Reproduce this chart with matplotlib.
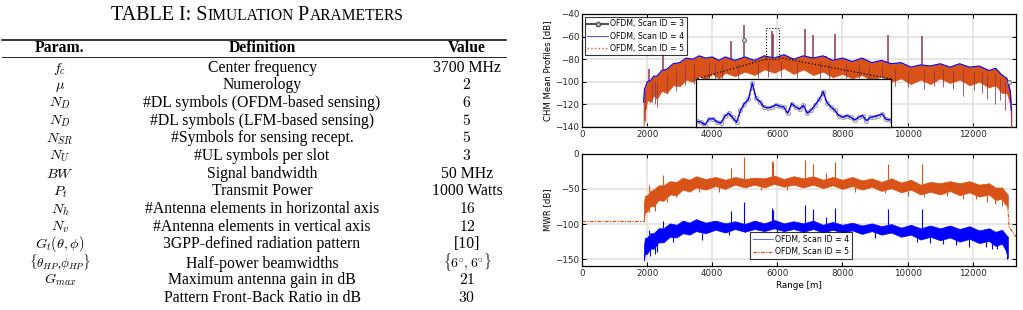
import numpy as np
import matplotlib
matplotlib.use("Agg")
import matplotlib.pyplot as plt
from matplotlib.lines import Line2D
from matplotlib.patches import Rectangle
from matplotlib.offsetbox import TextArea, HPacker, AnchoredOffsetbox
from matplotlib.transforms import ScaledTranslation

plt.rcParams['mathtext.fontset'] = 'cm'

# ---------------- table data ----------------
tab_param = [r'$f_c$', r'$\mu$', r'$N_D$', r'$N_D$', r'$N_{SR}$', r'$N_U$', r'$BW$', r'$P_t$',
             r'$N_h$', r'$N_v$', r'$G_t(\theta,\phi)$', r'$\{\theta_{HP}$,$\phi_{HP}\}$', r'$G_{max}$', '']
tab_def = ['Center frequency', 'Numerology', '#DL symbols (OFDM-based sensing)',
           '#DL symbols (LFM-based sensing)', '#Symbols for sensing recept.', '#UL symbols per slot',
           'Signal bandwidth', 'Transmit Power', '#Antenna elements in horizontal axis',
           '#Antenna elements in vertical axis', '3GPP-defined radiation pattern',
           'Half-power beamwidths', 'Maximum antenna gain in dB', 'Pattern Front-Back Ratio in dB']
tab_val = ['3700 MHz', r'$2$', r'$6$', r'$5$', r'$5$', r'$3$', '50 MHz', '1000 Watts', r'$16$', r'$12$',
           '[10]', r'$\{6^{\circ},6^{\circ}\}$', r'$21$', r'$30$']

# ---------------- CHM mean profiles (top) ----------------
chm_r = [1890, 1920, 1960, 2000, 2100, 2200, 2300, 2450, 2600, 2800,
         3000, 3200, 3400, 3600, 3800, 4000, 4200, 4400, 4700, 5000,
         5300, 5600, 5900, 6200, 6500, 6800, 7100, 7400, 7700, 8000,
         8300, 8600, 8900, 9200, 9500, 9800, 10100, 10400, 10700, 11000,
         11300, 11600, 11900, 12200, 12500, 12700, 12900, 13050, 13150, 13190]
chm_hi = [-118, -106, -104, -100, -99, -95, -95, -90, -89, -84,
          -83, -79, -80, -77, -79, -78, -81, -78, -81, -78,
          -81, -77, -79, -76, -80, -77, -79, -77, -81, -79,
          -82, -79, -83, -81, -84, -83, -87, -85, -86, -84,
          -87, -84, -87, -86, -90, -88, -94, -97, -108, -125]
chm_lo = [-140, -126, -124, -116, -118, -112, -115, -108, -110, -103,
          -104, -98, -100, -95, -98, -93, -97, -92, -95, -91,
          -94, -89, -92, -88, -93, -89, -94, -91, -96, -93,
          -97, -94, -99, -95, -100, -97, -102, -98, -102, -97,
          -101, -98, -103, -100, -105, -103, -110, -110, -120, -140]
spk_r = [2070, 2480, 4590, 4980, 5830, 5880, 6850, 7090, 7500, 7770, 9410, 10440]
spk_chm = [-88.7, -75.4, -63.6, -49.7, -54.7, -58.0, -53.6, -58.6, -77, -57.7, -58.6, -59.5]
dip_r = [1950, 2150, 2250, 2300, 2600, 2900, 3150, 3450, 3900, 4100, 4300, 4800, 5400, 5700, 6100,
         6600, 7300, 7600, 8100, 8500, 8800, 9200, 9600, 10000, 10500, 10800, 11100, 11400, 11700,
         12050, 12300, 12450, 12700, 12850, 12980, 13180]
dip_chm = [-135, -118, -120, -122, -110, -108, -103, -102, -100, -98, -100, -97, -97, -96, -96,
           -97, -98, -99, -100, -101, -102, -101, -104, -105, -106, -104, -105, -106, -113,
           -107, -110, -115, -120, -116, -125, -140]
scan3_mark_r = [4980, 13100]
scan3_mark = [-63, -100]

# zoomed window (inset), scan 4 values
ins_chm = [-88.2, -88.8, -91.1, -86.2, -85.9, -88.5, -89.7, -83.8, -81.2, -84.7,
           -89.1, -78.9, -73.0, -69.5, -55.5, -68.6, -71.6, -75.9, -76.8, -75.9,
           -73.9, -75.4, -75.9, -81.2, -73.0, -75.9, -77.7, -74.5, -81.2, -78.3,
           -73.9, -69.5, -62.8, -72.4, -75.9, -78.9, -83.2, -84.7, -83.2, -84.7,
           -87.0, -84.7, -83.2, -87.6, -84.7, -84.1, -83.2, -81.8, -86.5, -87.0]

# ---------------- MWR (bottom) ----------------
mwr_r = [1900, 1930, 2000, 2100, 2200, 2350, 2500, 2700, 2900, 3100,
         3300, 3500, 3800, 4100, 4400, 4700, 5000, 5300, 5600, 5900,
         6200, 6500, 6800, 7100, 7400, 7700, 8000, 8300, 8600, 8900,
         9200, 9500, 9800, 10100, 10400, 10700, 11000, 11300, 11600, 11900,
         12200, 12500, 12700, 12900, 13000, 13080]
mwr5_hi = [-72, -60, -59, -53, -51, -45, -45, -39, -40, -34,
           -37, -32, -36, -33, -37, -33, -36, -34, -35, -31,
           -36, -32, -35, -32, -37, -33, -37, -33, -38, -35,
           -40, -35, -41, -37, -44, -40, -42, -39, -42, -39,
           -44, -42, -48, -48, -54, -58]
mwr5_lo = [-96, -84, -82, -74, -75, -66, -67, -58, -59, -51,
           -54, -48, -51, -46, -50, -44, -48, -44, -48, -43,
           -47, -44, -48, -44, -49, -45, -50, -46, -51, -47,
           -53, -49, -55, -51, -58, -54, -58, -53, -59, -55,
           -61, -58, -66, -64, -72, -75]
mwr4_hi = [-132, -120, -119, -113, -113, -106, -106, -99, -101, -95,
           -98, -93, -98, -95, -99, -96, -100, -95, -99, -94,
           -99, -96, -99, -95, -101, -97, -101, -98, -102, -99,
           -103, -100, -105, -101, -106, -102, -106, -102, -107, -103,
           -109, -106, -111, -108, -114, -118]
mwr4_lo = [-152, -143, -142, -135, -135, -126, -126, -118, -119, -113,
           -115, -110, -113, -108, -112, -107, -111, -107, -110, -106,
           -110, -107, -111, -107, -112, -108, -112, -109, -114, -110,
           -115, -112, -118, -115, -122, -118, -123, -119, -125, -121,
           -127, -124, -131, -128, -136, -148]
mwr5_flat_r = [0, 1900]
mwr5_flat = [-96, -96]
mwr5_tail_r = [13080, 13120, 13160, 13330]
mwr5_tail = [-75, -105, -107, -118]
spk_mwr5 = [-45, -30, -21, -5, -10, -12, -9, -14, -28, -12, -15, -15]
spk_mwr4 = [-108, -95, -82, -69, -77, -80, -73, -78, -90, -77, -78, -79]
dip5_r = [2050, 2250, 2600, 2900, 3600, 4200, 5500, 6300, 8400, 9300, 10000, 10500, 11200, 11700,
          12100, 12450, 12700, 12900]
dip5 = [-83, -82, -68, -62, -55, -55, -52, -52, -54, -56, -60, -62, -60, -65, -64, -68, -72, -75]
dip4_r = [2100, 2250, 2300, 2800, 3700, 4500, 6000, 7600, 9000, 10300, 10700, 11100, 11500, 11900,
          12400, 12600, 12750, 13050]
dip4 = [-145, -143, -140, -125, -122, -116, -115, -117, -120, -125, -127, -128, -130, -133,
        -132, -136, -135, -150]

ORANGE = '#D95319'
BLUE = '#0000FF'
GREY = '#505050'
SPIKE = '#8a3550'
W, H = 1023, 310

fig = plt.figure(figsize=(W / 100, H / 100), dpi=100)


def fx(px):
    return px / W


def fy(py):
    return 1 - py / H


# ---------------- table ----------------
serif = 'Liberation Serif'
parts = [("TABLE I: S", 14.5), ("IMULATION", 11.2), (" P", 14.5), ("ARAMETERS", 11.2)]
kids = [TextArea(t, textprops=dict(fontsize=s, family=serif)) for t, s in parts]
title_box = HPacker(children=kids, align="baseline", pad=0, sep=0)
fig.add_artist(AnchoredOffsetbox(loc='center', child=title_box, frameon=False, pad=0, borderpad=0,
                                 bbox_to_anchor=(fx(257), fy(15)), bbox_transform=fig.transFigure))

fig.add_artist(Line2D([fx(2), fx(506)], [fy(39.5), fy(39.5)], transform=fig.transFigure, color='k', lw=1.1))
fig.add_artist(Line2D([fx(2), fx(506)], [fy(57.3), fy(57.3)], transform=fig.transFigure, color='k', lw=0.6))

col_x = [60, 262, 467]
fs = 11.3
for cx, head in zip(col_x, ['Param.', 'Definition', 'Value']):
    fig.text(fx(cx), fy(52.5), head, ha='center', va='baseline', fontsize=fs, family=serif, weight='bold')

# small nudges so that the tall bracket rows do not collide
row_nudge = {10: -1.0, 11: 1.8}
for i in range(len(tab_def)):
    yb = fy(66.5 + 17.7 * i + 5 + row_nudge.get(i, 0))
    brace = tab_param[i].startswith(r'$\{')
    fig.text(fx(col_x[0]), yb, tab_param[i], ha='center', va='baseline',
             fontsize=9.4 if brace else 10.3, family=serif)
    fig.text(fx(col_x[1]), yb, tab_def[i], ha='center', va='baseline', fontsize=fs, family=serif)
    fig.text(fx(col_x[2]), yb, tab_val[i], ha='center', va='baseline',
             fontsize=9.8 if tab_val[i].startswith(r'$\{') else fs, family=serif)


# ---------------- axes ----------------
def style_axes(ax):
    ax.set_xlim(0, 13330)
    ax.set_xticks([0, 2000, 4000, 6000, 8000, 10000, 12000])
    ax.grid(True, color='#e2e2e2', lw=1.2)
    ax.set_axisbelow(True)
    ax.tick_params(direction='in', top=True, right=True, length=3, width=0.7,
                   labelsize=6.3, labelcolor='#262626', pad=2)
    for s in ax.spines.values():
        s.set_linewidth(0.9)


def style_legend(leg):
    leg.get_frame().set_edgecolor('k')
    leg.get_frame().set_linewidth(0.8)


ax1 = fig.add_axes([fx(582), fy(127), fx(1016 - 582), (127 - 14) / H])
ax2 = fig.add_axes([fx(582), fy(266.3), fx(1016 - 582), (266.3 - 153.7) / H])

# top: CHM mean profiles
style_axes(ax1)
ax1.set_ylim(-140, -40)
ax1.set_yticks(range(-140, -39, 20))
ax1.fill_between(chm_r, chm_lo, chm_hi, color=ORANGE, lw=0.5, zorder=2)
ax1.vlines(dip_r, np.interp(dip_r, chm_r, chm_hi) - 4, dip_chm, color=SPIKE, lw=0.7, alpha=0.8, zorder=2)
ax1.vlines(spk_r, np.interp(spk_r, chm_r, chm_hi), spk_chm, color=SPIKE, lw=1.1, zorder=3)
ax1.plot(chm_r, chm_hi, color=BLUE, lw=0.8, zorder=3)
ax1.plot(scan3_mark_r, scan3_mark, 'o', ms=3, mfc='#c8c8c8', mec=GREY, mew=0.5, zorder=4)
ax1.set_ylabel('CHM Mean Profiles [dB]', fontsize=6.1, labelpad=2)

h3 = Line2D([], [], color=GREY, lw=1.5, marker='o', ms=3, mfc='#c8c8c8', mec=GREY, label='OFDM, Scan ID = 3')
h4 = Line2D([], [], color=BLUE, lw=0.7, alpha=0.7, label='OFDM, Scan ID = 4')
h5 = Line2D([], [], color=ORANGE, lw=1.0, ls=':', label='OFDM, Scan ID = 5')
leg1 = ax1.legend(handles=[h3, h4, h5], loc='upper left', fontsize=5.6, frameon=True, fancybox=False,
                  borderpad=0.35, labelspacing=0.4, handlelength=2.6, handletextpad=0.3,
                  borderaxespad=0.35)
style_legend(leg1)

# zoom box and inset
zx0, zx1, zy0, zy1 = 5650, 6050, -80, -52.5
ix0, ix1, iy0, iy1 = 3500, 9500, -140, -97.5
ax1.add_patch(Rectangle((zx0, zy0), zx1 - zx0, zy1 - zy0, fill=False, ls=':', lw=0.8, color='k', zorder=5))
ax1.plot([zx0, ix0], [zy0, iy1], ls=':', color='k', lw=0.9, zorder=5)
ax1.plot([zx1, ix1], [zy0 + 1.5, iy1], ls=':', color='k', lw=0.9, zorder=5)
axi = ax1.inset_axes([ix0, iy0, ix1 - ix0, iy1 - iy0], transform=ax1.transData, zorder=6)
axi.set_xticks([])
axi.set_yticks([])
for s in axi.spines.values():
    s.set_linewidth(0.9)
idx = np.arange(len(ins_chm))
down = axi.transData + ScaledTranslation(0, -1.3 / 72, fig.dpi_scale_trans)
axi.plot(idx, ins_chm, color=ORANGE, lw=1.3, ls=':', transform=down, alpha=0.8)
axi.plot(idx, ins_chm, 'o', ms=3.2, mfc='#dcdcdc', mec='#a0a0a0', mew=0.6)
axi.plot(idx, ins_chm, color=BLUE, lw=1.0)
axi.set_xlim(-0.3, len(ins_chm) - 0.7)
axi.set_ylim(-93, -52)

# bottom: MWR
style_axes(ax2)
ax2.set_ylim(-160, 0)
ax2.set_yticks([-150, -100, -50, 0])
ax2.plot(mwr5_flat_r, mwr5_flat, color=ORANGE, lw=0.9, ls=(0, (3, 1, 1, 1)))
ax2.plot(mwr5_tail_r, mwr5_tail, color=ORANGE, lw=0.9, ls=(0, (3, 1, 1, 1)))
ax2.fill_between(mwr_r, mwr5_lo, mwr5_hi, color=ORANGE, lw=0.5, zorder=2)
ax2.vlines(spk_r, np.interp(spk_r, mwr_r, mwr5_hi), spk_mwr5, color=ORANGE, lw=0.8, zorder=2)
ax2.vlines(dip5_r, np.interp(dip5_r, mwr_r, mwr5_lo), dip5, color=ORANGE, lw=0.8, zorder=2)
ax2.fill_between(mwr_r, mwr4_lo, mwr4_hi, color=BLUE, lw=0.5, zorder=2)
ax2.vlines(spk_r, np.interp(spk_r, mwr_r, mwr4_hi), spk_mwr4, color=BLUE, lw=0.8, zorder=2)
ax2.vlines(dip4_r, np.interp(dip4_r, mwr_r, mwr4_lo), dip4, color=BLUE, lw=0.8, zorder=2)
ax2.set_ylabel('MWR [dB]', fontsize=6.1, labelpad=2)
ax2.set_xlabel('Range [m]', fontsize=6.3, labelpad=2)

g4 = Line2D([], [], color=BLUE, lw=0.7, alpha=0.6, label='OFDM, Scan ID = 4')
g5 = Line2D([], [], color=ORANGE, lw=0.9, ls=(0, (3, 1, 1, 1)), label='OFDM, Scan ID = 5')
leg2 = ax2.legend(handles=[g4, g5], loc='lower center', bbox_to_anchor=(0.505, 0.03), fontsize=5.6,
                  frameon=True, fancybox=False, borderpad=0.35, labelspacing=0.4,
                  handlelength=2.6, handletextpad=0.3)
style_legend(leg2)

fig.savefig('out.png', dpi=100)
